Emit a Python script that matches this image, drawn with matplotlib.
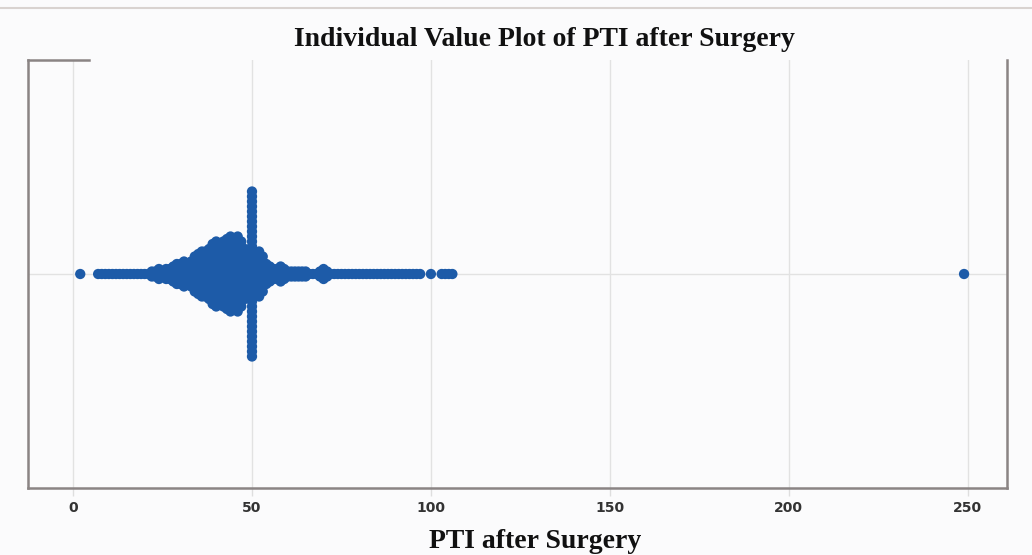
import matplotlib
matplotlib.use("Agg")
import matplotlib.pyplot as plt
import numpy as np

# ---- data (value: number of patients with that PTI after surgery) ----
pti_values = [2,
              7, 8, 9, 10, 11, 12, 13, 14, 15, 16, 17, 18, 19, 20, 21,
              22, 23, 24, 25, 26, 27, 28, 29, 30, 31, 32, 33, 34, 35,
              36, 37, 38, 39, 40, 41, 42, 43, 44, 45, 46, 47, 48, 49,
              50, 51, 52, 53, 54, 55, 56, 57, 58, 59, 60, 61, 62, 63,
              64, 65, 66, 67, 68, 69, 70, 71, 72, 73, 74, 75, 76, 77,
              78, 79, 80, 81, 82, 83, 84, 85, 86, 87, 88, 89, 90, 91,
              92, 93, 94, 95, 96, 97, 100, 103, 104, 105, 106, 249]
pti_counts = [1,
              1, 1, 1, 1, 1, 1, 1, 1, 1, 1, 1, 1, 1, 1, 1,
              2, 2, 3, 2, 3, 3, 4, 5, 5, 6, 5, 6, 8, 9,
              10, 10, 11, 13, 14, 13, 14, 15, 16, 15, 16, 14, 11, 9,
              34, 9, 10, 8, 5, 4, 3, 3, 4, 3, 2, 2, 2, 2,
              2, 2, 1, 1, 1, 2, 3, 2, 1, 1, 1, 1, 1, 1,
              1, 1, 1, 1, 1, 1, 1, 1, 1, 1, 1, 1, 1, 1,
              1, 1, 1, 1, 1, 1, 1, 1, 1, 1, 1, 1]
x_ticks = [0, 50, 100, 150, 200, 250]
title_text = "Individual Value Plot of PTI after Surgery"
xlabel_text = "PTI after Surgery"

# ---- layout ----
W, H, DPI = 1032, 555, 100
fig = plt.figure(figsize=(W / DPI, H / DPI), dpi=DPI, facecolor="#fbfbfc")
ax_l, ax_r, ax_t, ax_b = 28, 1007, 60, 488
ax = fig.add_axes([ax_l / W, 1 - ax_b / H, (ax_r - ax_l) / W, (ax_b - ax_t) / H])
ax.set_facecolor("#fbfbfc")
ax.set_xlim(-12.6, 261)
ax.set_ylim(-1, 1)

# stacked individual values (identical values stacked symmetrically)
ax_h_px = ax_b - ax_t
step = 5.0 / (ax_h_px / 2.0)  # vertical step of 5 px in data units
xs, ys = [], []
for v, c in zip(pti_values, pti_counts):
    offs = (np.arange(c) - (c - 1) / 2.0) * step
    xs.extend([v] * c)
    ys.extend(offs)

ax.axhline(0, color="#e2e2e2", lw=1, zorder=0)
for t in x_ticks:
    ax.axvline(t, color="#e2e2e2", lw=1, zorder=0)
ax.scatter(xs, ys, s=55, color="#1d5ba8", edgecolors="none", zorder=3)

ax.set_xticks(x_ticks)
ax.set_yticks([])
ax.tick_params(axis="x", length=6, width=1, color="#dedede", labelsize=10,
               labelcolor="#333333", pad=3)
for lab in ax.get_xticklabels():
    lab.set_fontfamily("DejaVu Sans")
    lab.set_fontweight("bold")

for side in ["left", "right", "bottom", "top"]:
    ax.spines[side].set_color("#8a8484")
    ax.spines[side].set_linewidth(1.8)
ax.spines["top"].set_bounds(-12.6, 4.5)

fig.text(0.528, 1 - 39 / H, title_text, ha="center", va="center",
         fontsize=20, fontweight="bold", family="Liberation Serif", color="#111111")
fig.text(0.519, 1 - 541 / H, xlabel_text, ha="center", va="center",
         fontsize=20, fontweight="bold", family="Liberation Serif", color="#111111")

# thin line at the very top of the image
fig.add_artist(plt.Line2D([0, 1], [1 - 8 / H, 1 - 8 / H], transform=fig.transFigure,
                          color="#d9d3d0", lw=1.5))

fig.savefig("out.png", dpi=DPI, facecolor=fig.get_facecolor())
